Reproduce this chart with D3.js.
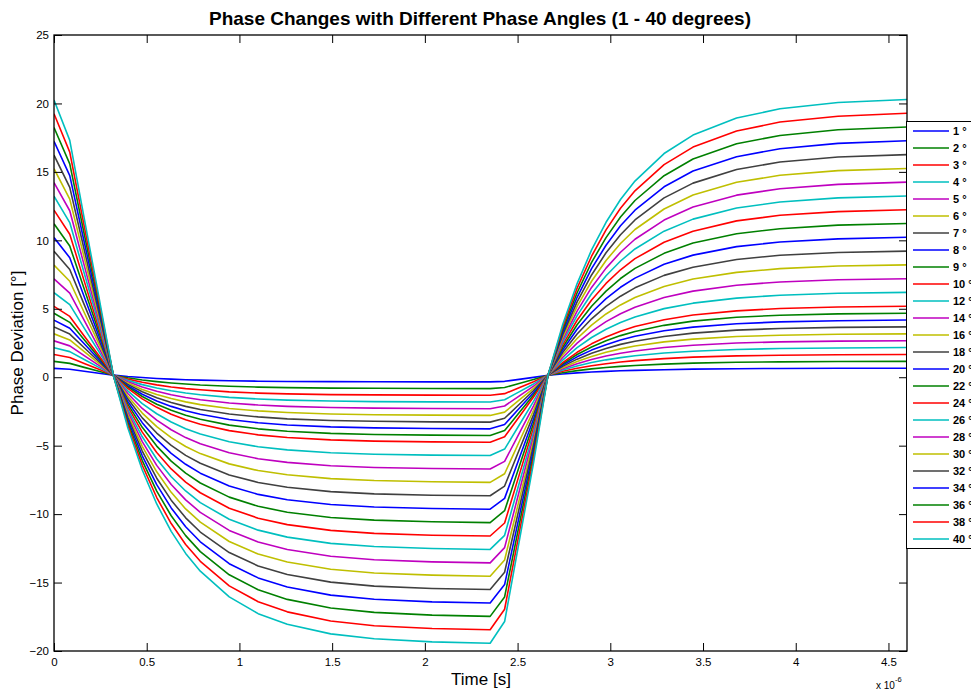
<!DOCTYPE html>
<html>
<head>
<meta charset="utf-8">
<script src="https://cdn.jsdelivr.net/npm/d3@7"></script>
<style>
  body { margin: 0; background: #fff; }
  svg { display: block; }
  text { font-family: "Liberation Sans", Arial, Helvetica, sans-serif; }
</style>
</head>
<body>
<svg id="chart" width="971" height="691"></svg>
<script>
// Sample times in microseconds (axis is labelled "x 10^-6" seconds)
const timeUs = [0, 0.085, 0.163, 0.242, 0.320, 0.398, 0.476, 0.554, 0.632, 0.710,
  0.789, 0.945, 1.101, 1.258, 1.492, 1.727, 2.039, 2.352, 2.430, 2.508,
  2.586, 2.664, 2.743, 2.821, 2.899, 2.977, 3.055, 3.133, 3.290, 3.446,
  3.681, 3.915, 4.228, 4.618];

// Phase angle of each trace, in degrees
const phaseAngles = [1, 2, 3, 4, 5, 6, 7, 8, 9, 10, 12, 14, 16, 18, 20, 22, 24, 26, 28, 30, 32, 34, 36, 38, 40];

// Phase deviation [deg] for each angle, one value per sample time
const dev01 = [0.65, 0.58, 0.44, 0.29, 0.15, 0.05, -0.02, -0.09, -0.14, -0.18, -0.21, -0.26, -0.29, -0.31, -0.32, -0.33, -0.34, -0.34, -0.30, -0.16, -0.01, 0.15, 0.24, 0.32, 0.38, 0.43, 0.47, 0.50, 0.55, 0.59, 0.62, 0.64, 0.65, 0.65];
const dev02 = [1.16, 1.01, 0.72, 0.44, 0.15, -0.04, -0.20, -0.32, -0.42, -0.50, -0.57, -0.66, -0.72, -0.76, -0.80, -0.81, -0.82, -0.83, -0.75, -0.46, -0.17, 0.15, 0.33, 0.48, 0.61, 0.71, 0.79, 0.86, 0.96, 1.03, 1.09, 1.12, 1.15, 1.16];
const dev03 = [1.66, 1.44, 1.01, 0.58, 0.15, -0.14, -0.37, -0.56, -0.71, -0.83, -0.92, -1.07, -1.16, -1.22, -1.27, -1.29, -1.31, -1.32, -1.20, -0.77, -0.33, 0.15, 0.43, 0.65, 0.84, 0.99, 1.11, 1.21, 1.36, 1.47, 1.56, 1.61, 1.64, 1.66];
const dev04 = [2.16, 1.87, 1.30, 0.72, 0.15, -0.23, -0.54, -0.79, -0.99, -1.15, -1.28, -1.47, -1.59, -1.67, -1.74, -1.78, -1.80, -1.81, -1.65, -1.07, -0.49, 0.15, 0.52, 0.82, 1.07, 1.27, 1.43, 1.57, 1.77, 1.90, 2.03, 2.10, 2.14, 2.17];
const dev05 = [2.66, 2.29, 1.58, 0.87, 0.15, -0.33, -0.72, -1.03, -1.28, -1.48, -1.64, -1.88, -2.03, -2.13, -2.21, -2.26, -2.29, -2.30, -2.10, -1.38, -0.65, 0.15, 0.61, 0.99, 1.29, 1.55, 1.75, 1.92, 2.17, 2.34, 2.50, 2.58, 2.64, 2.67];
const dev06 = [3.17, 2.72, 1.87, 1.01, 0.15, -0.43, -0.89, -1.26, -1.56, -1.80, -2.00, -2.28, -2.46, -2.58, -2.69, -2.74, -2.77, -2.79, -2.55, -1.68, -0.81, 0.15, 0.70, 1.15, 1.52, 1.83, 2.07, 2.28, 2.58, 2.78, 2.97, 3.07, 3.14, 3.17];
const dev07 = [3.67, 3.15, 2.15, 1.15, 0.15, -0.52, -1.06, -1.50, -1.85, -2.13, -2.36, -2.69, -2.90, -3.04, -3.16, -3.22, -3.26, -3.28, -3.00, -1.99, -0.97, 0.15, 0.79, 1.32, 1.75, 2.10, 2.40, 2.63, 2.98, 3.22, 3.44, 3.56, 3.64, 3.68];
const dev08 = [4.17, 3.58, 2.44, 1.29, 0.15, -0.62, -1.24, -1.73, -2.13, -2.45, -2.71, -3.09, -3.33, -3.49, -3.63, -3.70, -3.75, -3.77, -3.45, -2.29, -1.13, 0.15, 0.89, 1.49, 1.98, 2.38, 2.72, 2.99, 3.39, 3.66, 3.91, 4.04, 4.13, 4.18];
const dev09 = [4.67, 4.01, 2.73, 1.44, 0.15, -0.71, -1.41, -1.97, -2.42, -2.78, -3.07, -3.50, -3.77, -3.95, -4.10, -4.18, -4.23, -4.26, -3.90, -2.60, -1.29, 0.15, 0.98, 1.66, 2.21, 2.66, 3.04, 3.34, 3.79, 4.10, 4.38, 4.53, 4.63, 4.68];
const dev10 = [5.18, 4.44, 3.01, 1.58, 0.15, -0.81, -1.58, -2.20, -2.70, -3.11, -3.43, -3.90, -4.21, -4.40, -4.58, -4.67, -4.72, -4.75, -4.35, -2.90, -1.45, 0.15, 1.07, 1.82, 2.44, 2.94, 3.36, 3.70, 4.20, 4.54, 4.85, 5.02, 5.13, 5.19];
const dev12 = [6.18, 5.30, 3.59, 1.87, 0.15, -1.00, -1.93, -2.67, -3.27, -3.76, -4.15, -4.71, -5.08, -5.31, -5.52, -5.63, -5.69, -5.72, -5.25, -3.51, -1.77, 0.15, 1.25, 2.16, 2.90, 3.50, 4.00, 4.40, 5.01, 5.41, 5.78, 5.99, 6.13, 6.20];
const dev14 = [7.19, 6.15, 4.16, 2.15, 0.15, -1.19, -2.28, -3.14, -3.84, -4.41, -4.86, -5.52, -5.95, -6.22, -6.47, -6.59, -6.67, -6.70, -6.15, -4.12, -2.09, 0.15, 1.44, 2.49, 3.35, 4.06, 4.64, 5.11, 5.82, 6.29, 6.72, 6.96, 7.12, 7.20];
const dev16 = [8.19, 7.01, 4.73, 2.44, 0.15, -1.39, -2.62, -3.61, -4.41, -5.06, -5.58, -6.33, -6.82, -7.13, -7.41, -7.55, -7.64, -7.68, -7.05, -4.73, -2.41, 0.15, 1.62, 2.83, 3.81, 4.62, 5.28, 5.82, 6.63, 7.17, 7.66, 7.93, 8.12, 8.21];
const dev18 = [9.20, 7.87, 5.30, 2.72, 0.15, -1.58, -2.97, -4.08, -4.98, -5.71, -6.29, -7.14, -7.69, -8.04, -8.36, -8.52, -8.62, -8.66, -7.95, -5.34, -2.73, 0.15, 1.81, 3.16, 4.27, 5.18, 5.92, 6.53, 7.44, 8.04, 8.60, 8.91, 9.11, 9.22];
const dev20 = [10.20, 8.73, 5.88, 3.01, 0.15, -1.77, -3.32, -4.56, -5.56, -6.36, -7.01, -7.95, -8.56, -8.95, -9.30, -9.48, -9.59, -9.64, -8.85, -5.95, -3.05, 0.15, 1.99, 3.50, 4.73, 5.74, 6.57, 7.24, 8.25, 8.92, 9.54, 9.88, 10.11, 10.23];
const dev22 = [11.21, 9.58, 6.45, 3.30, 0.15, -1.96, -3.66, -5.03, -6.13, -7.01, -7.73, -8.76, -9.43, -9.86, -10.25, -10.44, -10.56, -10.62, -9.75, -6.56, -3.37, 0.15, 2.17, 3.83, 5.18, 6.29, 7.21, 7.95, 9.05, 9.80, 10.48, 10.85, 11.11, 11.23];
const dev24 = [12.21, 10.44, 7.02, 3.58, 0.15, -2.15, -4.01, -5.50, -6.70, -7.66, -8.44, -9.57, -10.30, -10.77, -11.19, -11.41, -11.54, -11.60, -10.65, -7.17, -3.69, 0.15, 2.36, 4.16, 5.64, 6.85, 7.85, 8.66, 9.86, 10.67, 11.42, 11.83, 12.10, 12.24];
const dev26 = [13.22, 11.30, 7.59, 3.87, 0.15, -2.35, -4.35, -5.97, -7.27, -8.31, -9.16, -10.38, -11.17, -11.68, -12.14, -12.37, -12.51, -12.58, -11.55, -7.78, -4.01, 0.15, 2.54, 4.50, 6.10, 7.41, 8.49, 9.37, 10.67, 11.55, 12.36, 12.80, 13.10, 13.25];
const dev28 = [14.22, 12.16, 8.17, 4.15, 0.15, -2.54, -4.70, -6.44, -7.84, -8.96, -9.87, -11.19, -12.04, -12.59, -13.08, -13.33, -13.49, -13.56, -12.45, -8.39, -4.33, 0.15, 2.73, 4.83, 6.56, 7.97, 9.13, 10.08, 11.48, 12.43, 13.30, 13.77, 14.09, 14.26];
const dev30 = [15.23, 13.01, 8.74, 4.44, 0.15, -2.73, -5.05, -6.91, -8.41, -9.62, -10.59, -12.00, -12.92, -13.50, -14.03, -14.30, -14.46, -14.54, -13.35, -9.00, -4.65, 0.15, 2.91, 5.17, 7.01, 8.53, 9.77, 10.79, 12.29, 13.31, 14.24, 14.75, 15.09, 15.26];
const dev32 = [16.23, 13.87, 9.31, 4.73, 0.15, -2.92, -5.39, -7.38, -8.98, -10.27, -11.31, -12.81, -13.79, -14.41, -14.97, -15.26, -15.43, -15.51, -14.25, -9.61, -4.97, 0.15, 3.09, 5.50, 7.47, 9.09, 10.41, 11.49, 13.10, 14.18, 15.17, 15.72, 16.09, 16.27];
const dev34 = [17.24, 14.73, 9.88, 5.01, 0.15, -3.11, -5.74, -7.85, -9.55, -10.92, -12.02, -13.62, -14.66, -15.32, -15.92, -16.22, -16.41, -16.49, -15.15, -10.22, -5.29, 0.15, 3.28, 5.84, 7.93, 9.64, 11.06, 12.20, 13.91, 15.06, 16.11, 16.69, 17.08, 17.28];
const dev36 = [18.24, 15.59, 10.46, 5.30, 0.15, -3.31, -6.09, -8.32, -10.12, -11.57, -12.74, -14.43, -15.53, -16.23, -16.86, -17.18, -17.38, -17.47, -16.05, -10.83, -5.61, 0.15, 3.46, 6.17, 8.39, 10.20, 11.70, 12.91, 14.72, 15.94, 17.05, 17.66, 18.08, 18.29];
const dev38 = [19.25, 16.44, 11.03, 5.58, 0.15, -3.50, -6.43, -8.79, -10.69, -12.22, -13.45, -15.24, -16.40, -17.14, -17.81, -18.15, -18.36, -18.45, -16.95, -11.44, -5.93, 0.15, 3.65, 6.51, 8.84, 10.76, 12.34, 13.62, 15.53, 16.81, 17.99, 18.64, 19.07, 19.29];
const dev40 = [20.25, 17.30, 11.60, 5.87, 0.15, -3.69, -6.78, -9.26, -11.26, -12.87, -14.17, -16.05, -17.27, -18.05, -18.75, -19.11, -19.33, -19.43, -17.85, -12.05, -6.25, 0.15, 3.83, 6.84, 9.30, 11.32, 12.98, 14.33, 16.34, 17.69, 18.93, 19.61, 20.07, 20.30];

const deviations = [dev01, dev02, dev03, dev04, dev05, dev06, dev07, dev08, dev09, dev10,
  dev12, dev14, dev16, dev18, dev20, dev22, dev24, dev26, dev28, dev30,
  dev32, dev34, dev36, dev38, dev40];

// Axis ticks
const xTicks = [0, 0.5, 1, 1.5, 2, 2.5, 3, 3.5, 4, 4.5];
const yTicks = [-20, -15, -10, -5, 0, 5, 10, 15, 20, 25];

// Repeating line colour order
const colorCycle = ["#0000ff", "#008000", "#ff0000", "#00bfbf", "#bf00bf", "#bfbf00", "#404040"];

const svg = d3.select("#chart");
const W = 971, H = 691;
const plot = { left: 54, top: 35, right: 907, bottom: 651 };

svg.append("rect").attr("width", W).attr("height", H).attr("fill", "#fff");

const x = d3.scaleLinear().domain([0, 4.6]).range([plot.left, plot.right]);
const y = d3.scaleLinear().domain([-20, 25]).range([plot.bottom, plot.top]);

svg.append("defs").append("clipPath").attr("id", "plotClip")
  .append("rect")
  .attr("x", plot.left).attr("y", plot.top)
  .attr("width", plot.right - plot.left).attr("height", plot.bottom - plot.top);

// Traces
const line = d3.line()
  .x((d, i) => x(timeUs[i]))
  .y(d => y(d));

svg.append("g").attr("clip-path", "url(#plotClip)")
  .selectAll("path")
  .data(deviations)
  .join("path")
  .attr("d", d => line(d))
  .attr("fill", "none")
  .attr("stroke", (d, i) => colorCycle[i % colorCycle.length])
  .attr("stroke-width", 1.6)
  .attr("stroke-linejoin", "round");

// Axes: inward ticks on all four sides, labels on bottom and left
const tickLen = 8;
function styleAxis(g) {
  g.select(".domain").remove();
  g.selectAll(".tick line").attr("stroke", "#000").attr("stroke-width", 1);
  g.selectAll(".tick text").attr("fill", "#000").attr("font-size", "11.5px")
    .attr("font-family", '"Liberation Sans", Arial, Helvetica, sans-serif');
}

svg.append("g").attr("transform", `translate(0,${plot.bottom})`)
  .call(d3.axisBottom(x).tickValues(xTicks).tickFormat(d3.format("")).tickSizeInner(-tickLen).tickSizeOuter(0).tickPadding(7))
  .call(styleAxis);
svg.append("g").attr("transform", `translate(0,${plot.top})`)
  .call(d3.axisTop(x).tickValues(xTicks).tickFormat("").tickSizeInner(-tickLen).tickSizeOuter(0))
  .call(styleAxis);
svg.append("g").attr("transform", `translate(${plot.left},0)`)
  .call(d3.axisLeft(y).tickValues(yTicks).tickFormat(d3.format("")).tickSizeInner(-tickLen).tickSizeOuter(0).tickPadding(5))
  .call(styleAxis);
svg.append("g").attr("transform", `translate(${plot.right},0)`)
  .call(d3.axisRight(y).tickValues(yTicks).tickFormat("").tickSizeInner(-tickLen).tickSizeOuter(0))
  .call(styleAxis);

// Axes box
svg.append("rect")
  .attr("x", plot.left).attr("y", plot.top)
  .attr("width", plot.right - plot.left).attr("height", plot.bottom - plot.top)
  .attr("fill", "none").attr("stroke", "#000").attr("stroke-width", 1.3);

// Titles
svg.append("text")
  .attr("x", 480).attr("y", 25)
  .attr("text-anchor", "middle")
  .attr("font-size", "19px").attr("font-weight", "bold")
  .text("Phase Changes with Different Phase Angles (1 - 40 degrees)");

svg.append("text")
  .attr("x", 481).attr("y", 685)
  .attr("text-anchor", "middle")
  .attr("font-size", "17px")
  .text("Time [s]");

svg.append("text")
  .attr("transform", "translate(23,343) rotate(-90)")
  .attr("text-anchor", "middle")
  .attr("font-size", "17px")
  .text("Phase Deviation [°]");

// Exponent of the time axis
const expo = svg.append("text").attr("x", 876).attr("y", 689).attr("font-size", "10px");
expo.append("tspan").text("x 10");
expo.append("tspan").attr("dy", -7).attr("font-size", "7.5px").text("-6");

// Legend
const legend = svg.append("g");
const legendTop = 121, legendLeft = 906, rowH = 17, firstRow = 131;
legend.append("rect")
  .attr("x", legendLeft + 0.5).attr("y", legendTop + 0.5)
  .attr("width", 90).attr("height", 427)
  .attr("fill", "#fff").attr("stroke", "#000").attr("stroke-width", 1);

const rows = legend.selectAll("g.row")
  .data(phaseAngles)
  .join("g")
  .attr("class", "row")
  .attr("transform", (d, i) => `translate(0,${firstRow + i * rowH})`);
rows.append("line")
  .attr("x1", 913).attr("x2", 949)
  .attr("stroke", (d, i) => colorCycle[i % colorCycle.length])
  .attr("stroke-width", 1.6);
rows.append("text")
  .attr("x", 953).attr("y", 4)
  .attr("font-size", "11px").attr("font-weight", "bold")
  .text(d => `${d} °`);
</script>
</body>
</html>
